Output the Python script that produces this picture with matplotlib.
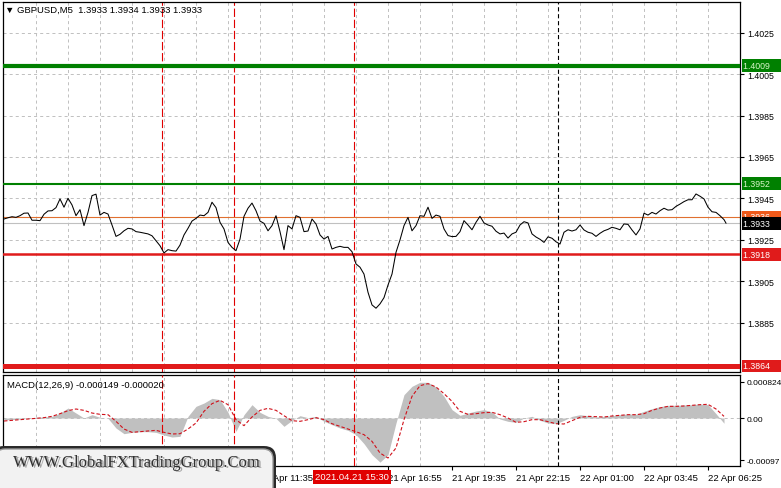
import numpy as np
import matplotlib
matplotlib.use('Agg')
import matplotlib.pyplot as plt
from matplotlib.patches import FancyBboxPatch
from matplotlib.transforms import IdentityTransform, blended_transform_factory

plt.rcParams['font.family'] = ['Liberation Sans', 'DejaVu Sans']
plt.rcParams['lines.scale_dashes'] = False

# GBPUSD M5 closes, one value every 2 bars (bar 0 = 21 Apr 00:55)
close = [
    1.39350, 1.39356, 1.39361, 1.39358, 1.39366, 1.39378, 1.39379, 1.39344, 1.39344, 1.39342,
    1.39373, 1.39389, 1.39390, 1.39405, 1.39447, 1.39407, 1.39450, 1.39418, 1.39366, 1.39395,
    1.39318, 1.39382, 1.39463, 1.39470, 1.39369, 1.39382, 1.39374, 1.39321, 1.39266, 1.39276,
    1.39293, 1.39305, 1.39302, 1.39289, 1.39286, 1.39282, 1.39278, 1.39269, 1.39245, 1.39221,
    1.39186, 1.39202, 1.39197, 1.39195, 1.39224, 1.39273, 1.39305, 1.39340, 1.39353, 1.39369,
    1.39366, 1.39382, 1.39431, 1.39405, 1.39334, 1.39302, 1.39237, 1.39213, 1.39197, 1.39253,
    1.39363,
    1.39402, 1.39427, 1.39390, 1.39340, 1.39329, 1.39293, 1.39318, 1.39366, 1.39289, 1.39202,
    1.39318, 1.39302, 1.39366, 1.39358, 1.39289, 1.39292, 1.39350, 1.39326, 1.39273, 1.39253,
    1.39266, 1.39205, 1.39213, 1.39218, 1.39213, 1.39213, 1.39192, 1.39133, 1.39117, 1.39084,
    1.38996, 1.38935, 1.38919, 1.38940, 1.38970, 1.39031, 1.39084, 1.39189, 1.39249, 1.39318,
    1.39358, 1.39293, 1.39318, 1.39366, 1.39363, 1.39407, 1.39353, 1.39369, 1.39363, 1.39302,
    1.39270, 1.39265, 1.39266, 1.39289, 1.39342, 1.39321, 1.39298, 1.39334, 1.39363, 1.39331,
    1.39321, 1.39315, 1.39291, 1.39278, 1.39282, 1.39258, 1.39278, 1.39286, 1.39321, 1.39337,
    1.39331, 1.39278, 1.39263, 1.39252, 1.39237, 1.39264, 1.39257, 1.39240, 1.39229, 1.39286,
    1.39298, 1.39292, 1.39298, 1.39321, 1.39297, 1.39286, 1.39281, 1.39266, 1.39281, 1.39293,
    1.39300, 1.39310, 1.39305, 1.39298, 1.39326, 1.39324, 1.39297, 1.39273, 1.39302, 1.39378,
    1.39369, 1.39382, 1.39374, 1.39390, 1.39402, 1.39393, 1.39395, 1.39411, 1.39422, 1.39434,
    1.39443, 1.39443, 1.39471, 1.39460, 1.39447, 1.39407, 1.39385, 1.39382, 1.39366, 1.39347,
    1.39330,
]
close_bars = list(range(0, 362, 2)) + [361]

# MACD(12,26,9), one value every 4 bars, in units of 1e-5
macd_main = [
    -3.8, -3.8, -2.3, -0.8, 1.5, 2.3, 3.8, 11.4, 22.9, 11.4,
    0, 7.6, 1.5, -0.8, -22.9, -35.9, -32.8, -31.3, -31.3, -32.8,
    -38.9, -43.5, -42.0, 3.8, 26.7, 34.3, 45.0, 42.0, 13.0, -30.5,
    7.6, 30.5, 13.0, 3.8, -0.8, -19.1, -5.3, 5.3, 0.8, 3.8,
    -7.6, -15.3, -22.9, -28.2, -38.1, -58.7, -84, -101, -84, -11.4,
    53.4, 72.5, 81.7, 81.7, 71, 49.6, 19.1, 6.1, 11.4, 16.0,
    19.1, 13.7, -2.3, -7.6, -9.9, 0, 3.8, -5.3, -11.4, -13,
    -5.3, 3.8, 7.6, 5.3, 2.3, 3.8, 5.3, 7.6, 9.2, 8.4,
    15.3, 21.4, 26.0, 29.0, 29.0, 29.7, 30.5, 32.0, 30.5, 9.9,
    -12,
]
macd_signal = [
    -6.9, -5.3, -3.8, -2.3, -0.8, 0.8, 3.8, 9.9, 16.8, 20.6,
    17.5, 11.4, 8.4, 7.6, -7.6, -25.2, -32.8, -31.3, -29.7, -28.2,
    -32.8, -36.6, -35.9, -25.2, -11.4, 15.3, 32.8, 40.4, 30.5, -3.8,
    -17.5, 2.3, 17.5, 22.1, 17.5, 5.3, -6.1, -7.6, -3.8, 0.8,
    -3.8, -13, -19.1, -25.2, -31.3, -38.1, -53.4, -80.1, -91.5, -68.6,
    -3.8, 49.6, 74, 78.6, 71, 55.7, 38.1, 15.3, 8.4, 9.9,
    12.2, 13, 7.6, 0, -9.9, -8.4, -3.8, -3.8, -8.4, -13,
    -13.7, -6.1, 1.5, 3.8, 3.1, 2.3, 4.6, 6.1, 7.6, 7.6,
    9.9, 17.5, 22.9, 26.7, 26.7, 27.5, 29.0, 30.5, 31.3, 20.6,
    3.8,
]
macd_bars = list(range(0, 361, 4))

levels = [1.4009, 1.3952, 1.3918, 1.3864]
level_colors = ['#008000', '#008000', '#E01B1B', '#E01B1B']
level_text = ['#D8F5C8', '#D8F5C8', 'white', 'white']
ask_price = 1.3936
bid_price = 1.3933

signal_bars = [79, 115, 175]      # 07:30, 10:30, 15:30
day_sep_bar = 277                 # 22 Apr 00:00

price_ticks = [1.4025, 1.4005, 1.3985, 1.3965, 1.3945, 1.3925, 1.3905, 1.3885]
# the 14:15 label sits under the red 15:30 marker, so it is left out
label_bars = [0, 32, 64, 96, 128, 192, 224, 256, 288, 320, 352]
time_labels = ['21 Apr 00:55', '21 Apr 03:35', '21 Apr 06:15', '21 Apr 08:55',
               '21 Apr 11:35', '21 Apr 16:55', '21 Apr 19:35',
               '21 Apr 22:15', '22 Apr 01:00', '22 Apr 03:45', '22 Apr 06:25']
macd_ticks = [0.000824, 0.0, -0.00097]
macd_tick_labels = ['0.000824', '0.00', '-0.00097']

W, H = 781, 489


def rect(l, t, r, b):
    return [l / W, 1 - b / H, (r - l) / W, (b - t) / H]


fig = plt.figure(figsize=(W / 100, H / 100), dpi=100)
ax = fig.add_axes(rect(3, 3, 740, 373))
mx = fig.add_axes(rect(3, 376, 740, 467))

grid_bars = np.arange(16, 368, 16)
grid_kw = dict(color='#C0C0C0', lw=0.7, ls=(0, (2.2, 2.2)))

# --- price panel ---
ax.plot(close_bars, close, color='black', lw=0.75, zorder=4)
for lvl, c, lw in zip(levels, level_colors, [3.0, 1.5, 1.8, 3.6]):
    ax.axhline(lvl, color=c, lw=lw, zorder=3)
ax.axhline(ask_price, color='#E07030', lw=0.8, zorder=2)
ax.axhline(bid_price, color='#C0C0C0', lw=0.8, zorder=2)
for b in signal_bars:
    ax.axvline(b, color='#E00000', lw=0.8, ls=(0, (6, 2)), zorder=2)
ax.axvline(day_sep_bar, color='black', lw=0.8, ls=(0, (3, 2)), zorder=2)

ax.set_xlim(-0.5, 368)
ax.set_ylim(1.386109, 1.403983)
ax.set_xticks(grid_bars)
ax.tick_params(axis='x', length=0, labelbottom=False)
ax.yaxis.tick_right()
ax.set_yticks(price_ticks)
ax.set_yticklabels([f'{t:.4f}' for t in price_ticks])
ax.tick_params(axis='y', length=3, width=0.8, pad=2, labelsize=6.3)
ax.grid(True, **grid_kw)
ax.set_axisbelow(True)

trans = blended_transform_factory(ax.transAxes, ax.transData)
for lvl, c, tc in zip(levels, level_colors, level_text):
    ax.text(1.0047, lvl, f'{lvl:.4f}    ', transform=trans, ha='left', va='center',
            color=tc, fontsize=6.3, clip_on=False, zorder=5,
            bbox=dict(boxstyle='square,pad=0.22', fc=c, ec='none'))
ax.text(1.0047, ask_price, f'{ask_price:.4f}    ', transform=trans, ha='left', va='center',
        color='white', fontsize=6.3, clip_on=False, zorder=5,
        bbox=dict(boxstyle='square,pad=0.22', fc='#F05A1A', ec='none'))
ax.text(1.0047, bid_price, f'{bid_price:.4f}    ', transform=trans, ha='left', va='center',
        color='white', fontsize=6.3, clip_on=False, zorder=6,
        bbox=dict(boxstyle='square,pad=0.22', fc='black', ec='none'))

# --- MACD panel ---
main = np.array(macd_main) * 1e-5
mx.fill_between(macd_bars, 0, main, color='#C0C0C0', lw=0, zorder=2)
mx.plot(macd_bars, np.array(macd_signal) * 1e-5, color='#D0101A', lw=0.8,
        ls=(0, (2.5, 1.5)), zorder=3)
mx.axhline(0, **grid_kw, zorder=1)
for b in signal_bars:
    mx.axvline(b, color='#E00000', lw=0.8, ls=(0, (6, 2)), zorder=4)
mx.axvline(day_sep_bar, color='black', lw=0.8, ls=(0, (3, 2)), zorder=4)

mx.set_xlim(-0.5, 368)
mx.set_ylim(-0.001098, 0.000984)
mx.set_xticks(label_bars)
mx.set_xticklabels(time_labels, ha='left')
mx.set_xticks(grid_bars, minor=True)
mx.tick_params(axis='x', which='major', length=3, width=0.8, pad=2, labelsize=6.8)
mx.tick_params(axis='x', which='minor', length=0)
mx.grid(True, axis='x', which='minor', **grid_kw)
mx.set_axisbelow(True)
mx.yaxis.tick_right()
mx.set_yticks(macd_ticks)
mx.set_yticklabels(macd_tick_labels)
mx.tick_params(axis='y', length=3, width=0.8, pad=1.5, labelsize=6.0)

for a in (ax, mx):
    for s in a.spines.values():
        s.set_color('black')
        s.set_linewidth(0.9)

# --- texts ---
fig.text(5 / W, 1 - 10 / H, '\u25bc GBPUSD,M5  1.3933 1.3934 1.3933 1.3933',
         ha='left', va='center', fontsize=6.8)
mx.text(0.006, 0.9, 'MACD(12,26,9) -0.000149 -0.000020', transform=mx.transAxes,
        ha='left', va='center', fontsize=6.8, zorder=5)

tt = blended_transform_factory(mx.transData, fig.transFigure)
fig.text(signal_bars[2] - 1, 1 - 478 / H, '2021.04.21 15:30', transform=tt,
         ha='center', va='center', color='white', fontsize=6.8,
         bbox=dict(boxstyle='square,pad=0.25', fc='#E00000', ec='none'))

# watermark
fig.add_artist(FancyBboxPatch((-8, -12), 284, 54, boxstyle='round,pad=0,rounding_size=12',
                              transform=IdentityTransform(), fc='#2a2a2a', ec='none'))
fig.add_artist(FancyBboxPatch((-5, -9), 278, 48, boxstyle='round,pad=0,rounding_size=10',
                              transform=IdentityTransform(), fc='#f2f2f2', ec='#9a9a9a', lw=1))
fig.text(138.5, 24.5, 'WWW.GlobalFXTradingGroup.Com', transform=IdentityTransform(),
         ha='center', va='center', fontsize=12, family='Liberation Serif', color='#a8a8a8')
fig.text(137, 26, 'WWW.GlobalFXTradingGroup.Com', transform=IdentityTransform(),
         ha='center', va='center', fontsize=12, family='Liberation Serif', color='#303030')

fig.savefig('out.png', dpi=100)
